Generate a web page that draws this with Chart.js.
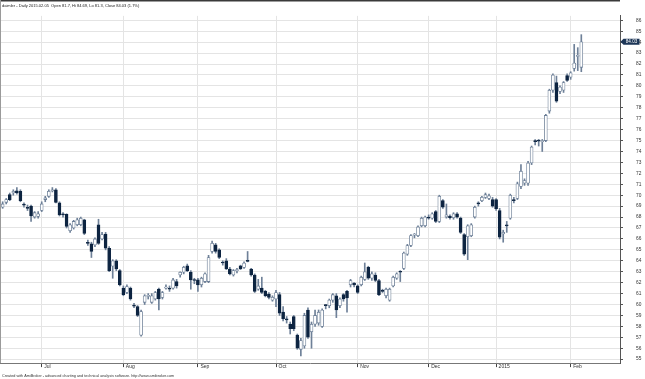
<!DOCTYPE html>
<html>
<head>
<meta charset="utf-8">
<script src="https://cdn.jsdelivr.net/npm/chart.js@4.4.1/dist/chart.umd.min.js"></script>
<style>
html,body{margin:0;padding:0;background:#fff;}
#wrap{width:645px;height:379px;position:relative;}
</style>
</head>
<body>
<div id="wrap"><canvas id="c" width="645" height="379"></canvas></div>
<script>
// ---- data (daily bars, index 0 = 2014-06-16 ... 163 = 2015-02-05) ----
const opens = [68.9,69.35,70.05,70.2,70.4,70.35,69.15,68.9,69.0,68.0,68.05,68.6,69.6,69.9,70.4,70.5,69.3,68.3,68.25,66.75,
67.0,67.3,67.3,67.75,65.7,65.55,65.45,67.3,66.0,66.45,65.15,63.5,64.0,63.1,61.5,61.1,61.5,59.95,59.8,57.2,
60.2,60.75,60.2,60.5,61.4,60.65,61.5,61.5,61.5,62.1,62.7,62.95,63.55,62.95,62.25,62.25,61.8,62.1,62.1,64.85,
65.45,65.0,63.85,64.0,63.25,62.7,63.1,63.55,63.4,64.0,63.25,62.7,61.4,61.5,61.2,60.95,60.4,60.5,60.9,59.3,
58.65,58.2,58.9,57.2,55.9,56.2,59.5,57.5,58.2,58.3,58.0,59.95,59.9,60.4,60.8,59.9,60.9,61.2,61.8,61.95,
61.7,61.8,62.3,63.4,62.4,62.7,62.2,61.3,60.8,60.4,61.7,62.4,63.0,63.3,64.6,65.4,66.35,66.3,67.2,67.2,
68.0,67.9,68.5,67.6,69.5,68.0,68.1,67.95,68.3,67.9,66.4,66.2,66.3,68.0,69.3,69.5,69.8,69.7,69.6,69.6,
68.6,66.45,67.3,67.9,69.6,69.7,70.8,71.1,71.1,72.95,75.0,75.0,74.9,75.0,77.7,79.6,80.3,79.5,79.6,80.95,
80.8,81.6,82.7,81.7];
const highs = [69.4,69.7,70.2,70.5,70.7,70.5,69.3,69.1,69.1,68.5,68.5,69.4,69.9,70.5,70.7,70.6,69.4,68.4,68.3,67.4,
67.7,67.9,68.0,67.8,65.9,65.7,66.1,67.8,66.6,66.6,65.3,64.1,64.1,63.2,61.7,61.8,61.6,60.1,59.9,59.5,
60.9,61.0,61.0,61.2,61.5,61.2,61.8,61.7,62.4,62.3,63.0,63.5,63.7,63.1,62.4,62.4,62.5,62.9,64.5,65.8,
65.6,65.1,64.0,64.2,63.4,63.2,63.3,63.6,63.9,64.85,63.3,62.8,62.3,62.5,61.3,61.1,60.8,61.3,61.1,59.8,
58.9,58.4,59.0,57.3,56.9,59.2,59.7,58.4,59.5,59.5,59.6,60.0,60.5,61.0,61.0,60.6,61.0,61.3,62.3,62.0,
61.8,62.6,63.8,63.5,63.0,62.9,62.3,61.4,61.5,61.5,62.6,62.9,63.1,64.8,65.5,66.4,66.5,67.2,68.0,68.1,
68.2,68.4,68.6,70.0,69.6,69.2,68.2,68.4,68.4,68.0,66.5,67.3,67.4,69.0,69.4,69.9,70.2,70.1,69.8,69.7,
68.8,66.8,67.6,70.1,69.8,71.2,72.8,71.5,73.1,74.5,75.1,75.1,75.1,77.4,79.7,81.1,80.9,80.0,80.4,81.1,
81.3,83.8,83.5,84.69];
const lows = [68.8,69.2,69.5,70.0,70.1,69.4,68.9,68.6,67.6,67.9,67.9,68.5,69.4,69.8,70.3,69.3,68.1,68.0,67.0,66.6,
66.9,67.2,67.2,66.4,65.4,64.3,65.3,65.5,65.9,65.0,63.0,62.4,63.1,61.7,60.8,61.0,60.4,59.7,58.9,57.1,
60.0,60.5,60.1,60.4,59.5,60.5,61.4,61.2,61.4,61.5,62.5,62.8,63.0,61.4,61.9,61.2,61.6,62.0,62.0,64.7,
64.7,64.2,63.6,63.2,62.7,62.6,62.9,63.2,63.3,63.9,62.6,61.1,61.3,61.0,60.7,60.5,60.3,59.8,59.0,58.5,
58.3,57.3,57.6,55.9,55.3,56.0,56.9,56.0,58.0,58.1,57.9,59.6,59.7,60.2,58.8,59.7,60.3,59.3,61.6,61.6,
61.0,61.7,62.2,62.3,62.2,62.1,60.8,61.1,60.6,60.3,61.6,62.3,62.1,63.2,64.5,65.3,66.1,66.2,67.1,67.1,
67.8,67.8,67.5,67.5,68.8,67.9,67.8,67.8,67.9,66.5,64.5,64.1,66.2,67.9,69.0,69.4,69.7,69.6,68.9,68.6,
66.0,65.7,66.6,67.8,69.3,69.6,70.6,70.9,70.9,72.8,74.6,74.5,74.0,74.9,77.5,79.4,78.5,79.3,79.4,80.4,
80.6,81.35,81.4,81.3];
const closes = [69.2,69.6,69.6,70.35,70.2,69.5,69.1,68.8,68.1,68.4,68.3,69.2,69.75,70.35,70.5,69.35,68.2,68.2,67.15,67.3,
67.6,67.75,67.9,66.5,65.6,64.85,66.0,65.6,66.4,65.15,63.1,64.0,63.25,61.8,60.9,61.65,60.5,59.85,59.0,59.35,
60.8,60.8,60.8,61.1,60.5,61.1,61.6,61.4,62.25,61.7,62.95,63.4,63.1,62.25,62.2,61.8,62.4,62.8,64.3,65.6,
64.85,64.3,63.8,63.25,62.8,63.1,63.1,63.25,63.8,63.95,62.7,61.2,61.7,61.1,60.8,60.65,60.65,61.1,59.2,58.7,
58.6,57.8,57.8,56.0,56.7,59.0,57.0,58.2,59.0,59.3,59.5,59.9,60.4,60.9,59.5,60.5,60.5,60.6,62.2,61.8,
61.1,62.5,63.0,62.4,62.8,62.2,60.9,61.2,61.4,61.4,62.5,62.8,62.95,64.7,65.4,66.3,66.35,67.1,67.9,68.0,
67.9,68.3,67.6,69.9,68.9,68.2,67.95,68.3,68.0,66.6,64.6,67.2,67.3,68.9,69.2,69.8,70.05,69.95,69.0,68.76,
66.15,66.6,67.2,70.0,69.5,71.05,72.2,71.35,72.95,74.4,74.9,74.95,75.0,77.3,79.6,81.0,78.6,79.9,80.3,80.5,
81.2,82.1,82.75,84.03];
// month ticks (bar index of first trading day) and their labels
const monthTickIdx = [11, 34, 55, 77, 100, 120, 139, 160];
const monthLabels = ['Jul', 'Aug', 'Sep', 'Oct', 'Nov', 'Dec', '2015', 'Feb'];
const yTickValues = [55,56,57,58,59,60,61,62,63,64,65,66,67,68,69,70,71,72,73,74,75,76,77,78,79,80,81,82,83,84,85,86];
const titleText = 'daimler - Daily 2015.02.05  Open 81.7, Hi 84.69, Lo 81.3, Close 84.03 (1.7%)';
const footerText = 'Created with AmiBroker - advanced charting and technical analysis software. http://www.amibroker.com';

const WICK = '#6e8098';
const DOWN = '#0d2441';
const UP_FILL = '#ffffff';
const FONT = 'Liberation Sans, Arial, sans-serif';

const wickData = lows.map((l, i) => ({x: i, y: [l, highs[i]]}));
const bodyData = opens.map((o, i) => ({x: i, y: [o, closes[i]]}));
const isUp = opens.map((o, i) => closes[i] >= o);

function fitFont(ctx, text, width, weight) {
  let s = 10;
  ctx.font = (weight||'') + ' ' + s + 'px ' + FONT;
  const w = ctx.measureText(text).width;
  return s * width / w;
}

const framePlugin = {
  id: 'frame',
  beforeDatasetsDraw(chart) {},
  afterDraw(chart) {
    const ctx = chart.ctx;
    const ca = chart.chartArea;
    ctx.save();
    // top and left frame
    ctx.strokeStyle = '#3a3a3a';
    ctx.lineWidth = 1.5;
    ctx.beginPath(); ctx.moveTo(0, 0.75); ctx.lineTo(ca.right, 0.75); ctx.stroke();
    ctx.strokeStyle = '#9a9a9a';
    ctx.lineWidth = 1;
    ctx.beginPath(); ctx.moveTo(0.5, 0); ctx.lineTo(0.5, ca.bottom); ctx.stroke();
    // title
    ctx.fillStyle = '#222';
    let fs = fitFont(ctx, titleText, 138);
    ctx.font = fs + 'px ' + FONT;
    ctx.textBaseline = 'middle';
    ctx.textAlign = 'left';
    ctx.fillText(titleText, 2, 5.5);
    // footer
    fs = fitFont(ctx, footerText, 173);
    ctx.font = fs + 'px ' + FONT;
    ctx.fillStyle = '#333';
    ctx.fillText(footerText, 2, 375.5);
    // last value box
    const ys = chart.scales.y;
    const last = closes[closes.length - 1];
    const yp = ys.getPixelForValue(last);
    const x0 = ca.right;
    ctx.fillStyle = '#1d3657';
    ctx.beginPath();
    ctx.moveTo(x0 + 0.5, yp);
    ctx.lineTo(x0 + 3.5, yp - 3);
    ctx.lineTo(x0 + 19.5, yp - 3);
    ctx.lineTo(x0 + 19.5, yp + 3);
    ctx.lineTo(x0 + 3.5, yp + 3);
    ctx.closePath();
    ctx.fill();
    ctx.fillStyle = '#ffffff';
    ctx.font = '4.6px ' + FONT;
    ctx.textAlign = 'center';
    ctx.fillText(last.toFixed(2), x0 + 11.5, yp + 0.3);
    ctx.restore();
  }
};

new Chart(document.getElementById('c'), {
  type: 'bar',
  data: {
    datasets: [
      {
        label: 'body',
        data: bodyData,
        order: 0,
        grouped: false,
        barThickness: 3,
        minBarLength: 1,
        borderSkipped: false,
        borderWidth: 0.8,
        backgroundColor: isUp.map(u => u ? UP_FILL : DOWN),
        borderColor: isUp.map(u => u ? WICK : DOWN)
      },
      {
        label: 'wick',
        data: wickData,
        order: 1,
        grouped: false,
        barThickness: 1,
        borderWidth: 0,
        backgroundColor: WICK
      }
    ]
  },
  options: {
    responsive: false,
    animation: false,
    devicePixelRatio: 1,
    layout: {padding: 0},
    plugins: {legend: {display: false}, tooltip: {enabled: false}, title: {display: false}},
    scales: {
      x: {
        type: 'linear',
        min: -0.75,
        max: 173.9,
        offset: false,
        grid: {offset: false, color: '#e4e4e4', lineWidth: 1, drawTicks: true, tickLength: 4, tickColor: '#444'},
        border: {display: true, color: '#777', width: 1},
        afterBuildTicks(scale) { scale.ticks = monthTickIdx.map(v => ({value: v})); },
        afterFit(scale) { scale.height = 13; },
        ticks: {
          autoSkip: false,
          maxRotation: 0,
          align: 'start',
          labelOffset: 2.5,
          padding: -3,
          color: '#333',
          font: {size: 5, family: FONT},
          callback(v) { const k = monthTickIdx.indexOf(v); return k >= 0 ? monthLabels[k] : ''; }
        }
      },
      y: {
        type: 'linear',
        position: 'right',
        min: 54.637,
        max: 86.408,
        beginAtZero: false,
        grid: {color: '#e4e4e4', lineWidth: 1, drawTicks: true, tickLength: 3, tickColor: '#555'},
        border: {display: true, color: '#555', width: 1},
        afterBuildTicks(scale) { scale.ticks = yTickValues.map(v => ({value: v})); },
        afterFit(scale) { scale.width = 25; },
        ticks: {
          padding: 13,
          color: '#333',
          font: {size: 4.8, family: FONT},
          callback(v) { return String(v); }
        }
      }
    }
  },
  plugins: [framePlugin]
});
</script>
</body>
</html>
